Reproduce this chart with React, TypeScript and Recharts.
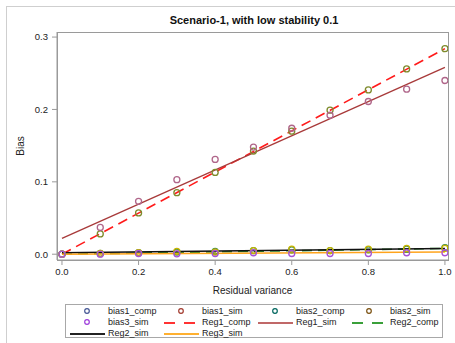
import {
  ComposedChart,
  Line,
  Scatter,
  XAxis,
  YAxis,
} from 'recharts';

const xValues = [0, 0.1, 0.2, 0.3, 0.4, 0.5, 0.6, 0.7, 0.8, 0.9, 1.0];

const bias1Comp = [0, 0.028, 0.057, 0.085, 0.113, 0.1425, 0.17, 0.199, 0.227, 0.256, 0.284];
const bias1Sim = [0, 0.037, 0.073, 0.103, 0.131, 0.148, 0.174, 0.192, 0.211, 0.228, 0.24];
const bias2Comp = [0, 0.001, 0.002, 0.003, 0.004, 0.005, 0.006, 0.005, 0.006, 0.007, 0.009];
const bias2Sim = [0, 0.001, 0.002, 0.004, 0.003, 0.005, 0.007, 0.005, 0.007, 0.008, 0.008];
const bias3Sim = [0, 0, 0.001, 0.0005, 0.001, 0.002, 0.001, 0.001, 0.001, 0.002, 0.002];

// fitted lines, read at both ends
const regX = [0, 1];
const reg1Comp = [0, 0.284];
const reg1Sim = [0.022, 0.258];
const reg2Comp = [0, 0.008];
const reg2Sim = [0.002, 0.008];
const reg3Sim = [0, 0.003];

const xTicks = [0, 0.2, 0.4, 0.6, 0.8, 1.0];
const yTicks = [0, 0.1, 0.2, 0.3];

const FONT = '"Liberation Sans", Arial, sans-serif';
const AXIS_GREY = '#9a9a9a';

const toPoints = (ys: number[], xs: number[] = xValues) => xs.map((x, i) => ({ x, y: ys[i] }));

const scatters = [
  { name: 'bias1_comp', data: bias1Comp, color: '#7d8b2c' },
  { name: 'bias1_sim', data: bias1Sim, color: '#b0668a' },
  { name: 'bias2_comp', data: bias2Comp, color: '#3f8f4f' },
  { name: 'bias2_sim', data: bias2Sim, color: '#c8b400' },
  { name: 'bias3_sim', data: bias3Sim, color: '#a652d6' },
];

const lines = [
  { name: 'Reg1_comp', data: reg1Comp, color: '#ff1a1a', dash: '10 6', width: 1.6 },
  { name: 'Reg1_sim', data: reg1Sim, color: '#a83a3a', dash: undefined, width: 1.3 },
  { name: 'Reg2_comp', data: reg2Comp, color: '#2e8b2e', dash: '10 6', width: 1.6 },
  { name: 'Reg2_sim', data: reg2Sim, color: '#111111', dash: undefined, width: 1.5 },
  { name: 'Reg3_sim', data: reg3Sim, color: '#ffa41c', dash: undefined, width: 1.6 },
];

const legendItems = [
  { label: 'bias1_comp', kind: 'marker', color: '#445694' },
  { label: 'bias1_sim', kind: 'marker', color: '#a23a2e' },
  { label: 'bias2_comp', kind: 'marker', color: '#01665e' },
  { label: 'bias2_sim', kind: 'marker', color: '#7a5010' },
  { label: 'bias3_sim', kind: 'marker', color: '#9d3cdb' },
  { label: 'Reg1_comp', kind: 'dash', color: '#ff3333' },
  { label: 'Reg1_sim', kind: 'line', color: '#c06868' },
  { label: 'Reg2_comp', kind: 'dash', color: '#3aa03a' },
  { label: 'Reg2_sim', kind: 'line', color: '#222222' },
  { label: 'Reg3_sim', kind: 'line', color: '#ffb030' },
];

function OpenCircle(props: any) {
  const { cx, cy, fill } = props;
  if (cx == null || cy == null) return null;
  return <circle cx={cx} cy={cy} r={3} fill="none" stroke={fill} strokeWidth={1.3} />;
}

function LegendBox() {
  return (
    <div
      style={{
        position: 'absolute',
        left: 65,
        top: 304,
        width: 376,
        height: 32,
        border: '1px solid #a8a8a8',
        fontFamily: FONT,
        fontSize: 9,
        color: '#222',
      }}
    >
      {legendItems.map((item, i) => {
        const col = i % 4;
        const row = Math.floor(i / 4);
        const left = col * 94;
        const top = 1 + row * 11;
        return (
          <div key={item.label} style={{ position: 'absolute', left, top, height: 11, width: 94 }}>
            <svg width={40} height={11} style={{ position: 'absolute', left: 2, top: 0 }}>
              {item.kind === 'marker' ? (
                <circle cx={19} cy={5} r={2.3} fill="none" stroke={item.color} strokeWidth={1.2} />
              ) : (
                <line
                  x1={2}
                  x2={37}
                  y1={6}
                  y2={6}
                  stroke={item.color}
                  strokeWidth={2}
                  strokeDasharray={item.kind === 'dash' ? '11 9' : undefined}
                />
              )}
            </svg>
            <span style={{ position: 'absolute', left: 42, top: 0, lineHeight: '11px', whiteSpace: 'nowrap' }}>
              {item.label}
            </span>
          </div>
        );
      })}
    </div>
  );
}

export default function App() {
  return (
    <div style={{ position: 'absolute', left: 0, top: 0, width: 455, height: 343, background: '#fff', overflow: 'hidden' }}>
      <div
        style={{
          position: 'absolute',
          left: 6,
          top: 6,
          width: 460,
          height: 345,
          border: '1px solid #cfcfcf',
        }}
      />
      <div
        style={{
          position: 'absolute',
          left: 0,
          top: 14,
          width: 508,
          textAlign: 'center',
          fontFamily: FONT,
          fontWeight: 'bold',
          fontSize: 11,
          color: '#111',
        }}
      >
        Scenario-1, with low stability 0.1
      </div>
      <div
        style={{
          position: 'absolute',
          left: 57,
          top: 32,
          width: 390,
          height: 227,
          border: `1px solid ${AXIS_GREY}`,
          pointerEvents: 'none',
        }}
      />
      <ComposedChart
        width={455}
        height={343}
        margin={{ top: 32, right: 7, left: 0, bottom: 43 }}
        style={{ position: 'absolute', left: 0, top: 0 }}
      >
        <XAxis
          type="number"
          dataKey="x"
          domain={[-0.013, 1.008]}
          ticks={xTicks}
          allowDataOverflow
          tickFormatter={(v: number) => v.toFixed(1)}
          tick={{ fontSize: 9.5, fill: '#222', fontFamily: FONT }}
          tickLine={{ stroke: AXIS_GREY }}
          axisLine={{ stroke: AXIS_GREY }}
          tickSize={5}
          tickMargin={3}
          height={40}
          label={{
            value: 'Residual variance',
            position: 'insideBottom',
            offset: 6,
            fontSize: 10,
            fill: '#222',
            fontFamily: FONT,
          }}
        />
        <YAxis
          type="number"
          dataKey="y"
          domain={[-0.008, 0.307]}
          ticks={yTicks}
          allowDataOverflow
          tickFormatter={(v: number) => v.toFixed(1)}
          tick={{ fontSize: 9.5, fill: '#222', fontFamily: FONT }}
          tickLine={{ stroke: AXIS_GREY }}
          axisLine={{ stroke: AXIS_GREY }}
          tickSize={5}
          tickMargin={4}
          width={57}
          label={{
            value: 'Bias',
            angle: -90,
            position: 'insideLeft',
            offset: 20,
            fontSize: 10,
            fill: '#222',
            fontFamily: FONT,
            style: { textAnchor: 'middle' },
          }}
        />
        {lines.map((l) => (
          <Line
            key={l.name}
            name={l.name}
            data={toPoints(l.data, regX)}
            dataKey="y"
            stroke={l.color}
            strokeWidth={l.width}
            strokeDasharray={l.dash}
            dot={false}
            activeDot={false}
            isAnimationActive={false}
          />
        ))}
        {scatters.map((s) => (
          <Scatter
            key={s.name}
            name={s.name}
            data={toPoints(s.data)}
            dataKey="y"
            fill={s.color}
            shape={<OpenCircle />}
            isAnimationActive={false}
          />
        ))}
      </ComposedChart>
      <LegendBox />
    </div>
  );
}
